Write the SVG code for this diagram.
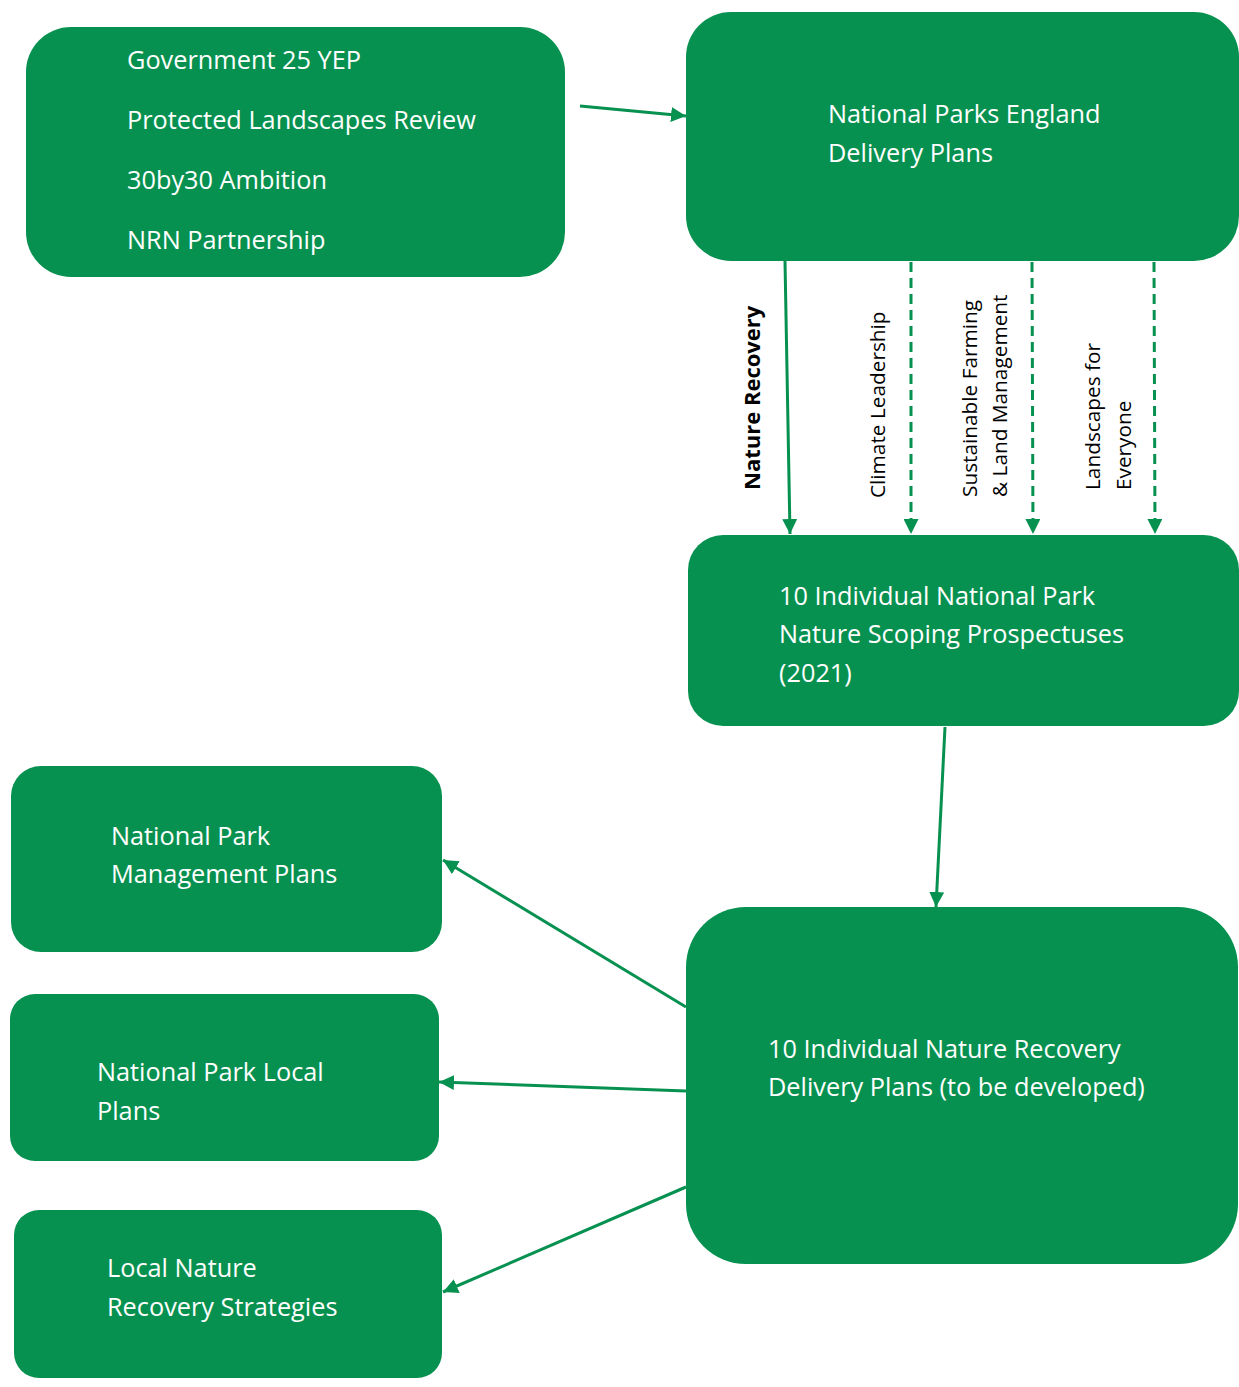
<svg xmlns="http://www.w3.org/2000/svg" width="1239" height="1387" viewBox="0 0 1239 1387">
<style>
.box{fill:#079150}
.t{font-family:"Open Sans","Noto Sans",sans-serif;font-size:25.3px;fill:#ffffff}
.v{font-family:"Open Sans","Noto Sans",sans-serif;font-size:20.8px;fill:#000000}
.vb{font-weight:bold;font-size:22px}
.c{stroke:#079150;stroke-width:3;fill:none}
.d{stroke-dasharray:10 6}
</style>
<defs>
<marker id="ah" viewBox="0 0 10 10" refX="10" refY="5" markerWidth="5" markerHeight="5" markerUnits="strokeWidth" orient="auto">
<path d="M0,0 L10,5 L0,10 Z" fill="#079150"/>
</marker>
</defs>
<rect width="1239" height="1387" fill="#ffffff"/>
<g id="n-sources">
<rect class="box" x="26" y="27" width="539" height="250" rx="45"/>
<text class="t" x="127" y="69">Government 25 YEP</text>
<text class="t" x="127" y="129">Protected Landscapes Review</text>
<text class="t" x="127" y="189">30by30 Ambition</text>
<text class="t" x="127" y="249">NRN Partnership</text>
</g>
<g id="n-npe">
<rect class="box" x="686" y="12" width="553" height="249" rx="45"/>
<text class="t" x="828" y="123">National Parks England</text>
<text class="t" x="828" y="162">Delivery Plans</text>
</g>
<g id="n-prospectuses">
<rect class="box" x="688" y="535" width="551" height="191" rx="35"/>
<text class="t" x="779" y="605">10 Individual National Park</text>
<text class="t" x="779" y="643">Nature Scoping Prospectuses</text>
<text class="t" x="779" y="682">(2021)</text>
</g>
<g id="n-nrdp">
<rect class="box" x="686" y="907" width="552" height="357" rx="60"/>
<text class="t" x="768" y="1058">10 Individual Nature Recovery</text>
<text class="t" x="768" y="1096">Delivery Plans (to be developed)</text>
</g>
<g id="n-mgmt">
<rect class="box" x="11" y="766" width="431" height="186" rx="30"/>
<text class="t" x="111" y="845">National Park</text>
<text class="t" x="111" y="883">Management Plans</text>
</g>
<g id="n-local">
<rect class="box" x="10" y="994" width="429" height="167" rx="25"/>
<text class="t" x="97" y="1081">National Park Local</text>
<text class="t" x="97" y="1120">Plans</text>
</g>
<g id="n-lnrs">
<rect class="box" x="14" y="1210" width="428" height="168" rx="25"/>
<text class="t" x="107" y="1277">Local Nature</text>
<text class="t" x="107" y="1316">Recovery Strategies</text>
</g>
<g id="connectors">
<line class="c" x1="580" y1="106" x2="686" y2="116" marker-end="url(#ah)"/>
<line class="c" x1="785" y1="261" x2="790" y2="534" marker-end="url(#ah)"/>
<line class="c d" x1="911" y1="262" x2="911" y2="534" marker-end="url(#ah)"/>
<line class="c d" x1="1032" y1="262" x2="1033" y2="534" marker-end="url(#ah)"/>
<line class="c d" x1="1154" y1="262" x2="1155" y2="534" marker-end="url(#ah)"/>
<line class="c" x1="945" y1="727" x2="936" y2="907" marker-end="url(#ah)"/>
<line class="c" x1="686" y1="1007" x2="443" y2="860" marker-end="url(#ah)"/>
<line class="c" x1="686" y1="1091" x2="439" y2="1082" marker-end="url(#ah)"/>
<line class="c" x1="686" y1="1187" x2="443" y2="1292" marker-end="url(#ah)"/>
</g>
<g id="labels">
<text class="v vb" transform="translate(760,490) rotate(-90)">Nature Recovery</text>
<text class="v" transform="translate(885,498) rotate(-90)">Climate Leadership</text>
<text class="v" transform="translate(977,497) rotate(-90)">Sustainable Farming</text>
<text class="v" transform="translate(1007,497) rotate(-90)">&amp; Land Management</text>
<text class="v" transform="translate(1100,490) rotate(-90)">Landscapes for</text>
<text class="v" transform="translate(1131,490) rotate(-90)">Everyone</text>
</g>
</svg>
